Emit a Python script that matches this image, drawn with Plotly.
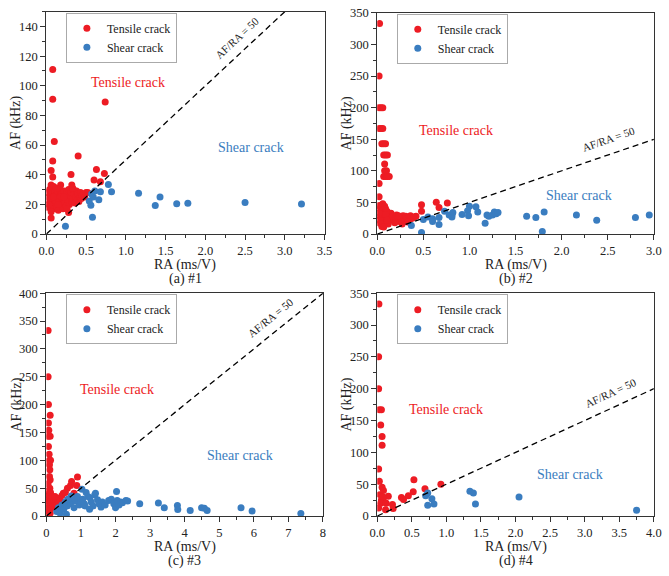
import plotly.graph_objects as go

# ---------------- data ----------------
# Panel (a) #1
a_ten_x = [0.08, 0.08, 0.74, 0.10, 0.08, 0.40, 0.06, 0.63, 0.31, 0.73, 0.60, 0.68, 0.08, 0.32, 0.18, 0.28, 0.06, 0.02,
           0.03, 0.04, 0.04, 0.05, 0.05, 0.06, 0.06, 0.07, 0.07, 0.08, 0.08, 0.09, 0.09, 0.10, 0.10, 0.11, 0.12, 0.12,
           0.13, 0.14, 0.14, 0.15, 0.16, 0.17, 0.18, 0.19, 0.20, 0.21, 0.22, 0.23, 0.24, 0.25, 0.26, 0.27, 0.28, 0.29,
           0.30, 0.31, 0.32, 0.33, 0.34, 0.35, 0.36, 0.37, 0.38, 0.39, 0.40, 0.41, 0.42, 0.43, 0.44, 0.45, 0.47, 0.48,
           0.50, 0.52, 0.18, 0.12, 0.05, 0.02, 0.03, 0.06, 0.09, 0.15, 0.22, 0.26, 0.33]
a_ten_y = [111, 91, 89, 62.5, 49.3, 52.7, 42.8, 43.5, 40.2, 40.8, 36.5, 35.3, 38.5, 33, 33, 14.5, 10.8, 18,
           25, 30, 22, 28, 19, 33, 26, 23, 30, 20, 27, 32, 17, 24, 29, 21, 31, 26,
           18, 23, 28, 16, 25, 30, 21, 27, 24, 17, 29, 22, 26, 19, 28, 23, 30, 20,
           26, 28, 22, 24, 30, 27, 21, 25, 29, 23, 27, 22, 25, 28, 24, 26, 27, 25,
           28, 28, 25, 22, 24, 28, 20, 15, 25, 20, 25, 17, 31]
a_she_x = [0.24, 0.58, 0.56, 0.54, 0.59, 0.61, 0.68, 0.66, 0.78, 0.82, 1.16, 1.37, 1.43, 1.64, 1.78, 2.50, 3.21, 0.57]
a_she_y = [5.3, 11.3, 19.5, 22.3, 25, 29, 28.5, 23.2, 33.5, 28.5, 27.6, 19.3, 25, 20.5, 20.8, 21.2, 20.3, 27]

# Panel (b) #2
b_ten_x = [0.025, 0.02, 0.02, 0.04, 0.06, 0.02, 0.04, 0.06, 0.05, 0.07, 0.09, 0.07, 0.09, 0.11, 0.08, 0.08, 0.10,
           0.07, 0.09, 0.11, 0.13, 0.02, 0.02, 0.48, 0.48, 0.64, 0.67, 0.76,
           0.02, 0.03, 0.04, 0.05, 0.06, 0.07, 0.08, 0.02, 0.03, 0.04, 0.05, 0.06, 0.07, 0.08, 0.09, 0.10, 0.11,
           0.12, 0.13, 0.14, 0.15, 0.03, 0.05, 0.06, 0.08, 0.09, 0.10, 0.04, 0.06, 0.07, 0.10, 0.12, 0.02, 0.09, 0.11,
           0.17, 0.18, 0.20, 0.21, 0.22, 0.24, 0.25, 0.26, 0.27, 0.28, 0.29, 0.30, 0.31, 0.32, 0.34, 0.35, 0.36,
           0.38, 0.40, 0.42, 0.19, 0.23, 0.33]
b_ten_y = [333, 250, 200, 200, 200, 167, 167, 167, 143, 143, 143, 125, 125, 125, 111, 100, 100,
           91, 91, 91, 91, 80, 59, 46.3, 36, 50.5, 42, 49,
           45, 40, 35, 30, 25, 20, 15, 22, 28, 45, 42, 38, 33, 28, 24, 19, 35,
           30, 26, 22, 33, 17, 12, 48, 44, 40, 37, 26, 31, 11, 28, 16, 33, 31, 22,
           28, 22, 26, 30, 24, 20, 27, 23, 16, 29, 25, 21, 28, 24, 26, 22, 29,
           25, 27, 28, 18, 29, 19]
b_she_x = [0.37, 0.48, 0.50, 0.55, 0.60, 0.60, 0.67, 0.67, 0.73, 0.78, 0.81, 0.81, 0.82, 0.92, 0.98, 0.99, 1.00,
           1.07, 1.09, 1.17, 1.19, 1.21, 1.25, 1.27, 1.29, 1.31, 1.62, 1.72, 1.79, 1.81, 2.16, 2.38, 2.80, 2.95]
b_she_y = [13.4, 2.5, 23, 27, 24, 20, 26, 15, 36, 30, 27, 30, 34, 31, 37, 29, 44,
           43, 35, 17, 30, 28, 30, 35, 32, 34, 28, 26, 4, 35, 30, 22, 26, 30]

# Panel (c) #3
c_ten_x = [0.05, 0.05, 0.06, 0.11, 0.06, 0.07, 0.06, 0.11, 0.06, 0.08, 0.09, 0.12, 0.09, 0.10, 0.09, 0.11, 0.10,
           0.05, 0.04, 0.06,
           0.02, 0.03, 0.04, 0.05, 0.06, 0.07, 0.08, 0.09, 0.10, 0.11, 0.12, 0.13, 0.14, 0.15, 0.16, 0.18, 0.20,
           0.22, 0.24, 0.26, 0.28, 0.30, 0.32, 0.35, 0.38, 0.02, 0.03, 0.08, 0.12, 0.17, 0.25, 0.40, 0.45, 0.49,
           0.90, 0.61, 0.70, 0.73, 0.80, 0.88, 0.55]
c_ten_y = [333, 250, 200, 181, 167, 154, 143, 143, 125, 111, 100, 100, 92, 83, 71, 65, 50,
           58, 45, 40,
           35, 28, 22, 15, 8, 30, 25, 18, 12, 5, 33, 27, 20, 14, 30, 24, 17,
           28, 22, 31, 26, 20, 29, 25, 32, 10, 3, 38, 42, 35, 35, 28, 37, 41,
           70, 50, 55, 62, 41, 55, 42]
c_she_x = [0.30, 0.35, 0.40, 0.45, 0.50, 0.55, 0.58, 0.60, 0.65, 0.70, 0.75, 0.80, 0.85, 0.90, 0.95, 1.03, 1.00,
           1.05, 1.10, 1.15, 1.20, 1.26, 1.30, 1.35, 1.40, 1.42, 1.48, 1.52, 1.58, 1.62, 1.70, 1.80, 1.88, 1.95,
           2.00, 2.03, 2.05, 2.10, 2.15, 2.20, 2.30, 2.35, 1.12, 0.72, 1.25, 0.62,
           2.70, 3.24, 3.41, 3.79, 3.80, 4.16, 4.49, 4.57, 4.65, 5.63, 5.95, 7.36]
c_she_y = [8, 15, 5, 20, 12, 25, 3, 18, 28, 22, 32, 15, 27, 35, 20, 48, 25,
           30, 22, 42, 35, 33, 25, 18, 38, 41, 29, 22, 16, 25, 20, 28, 30, 22,
           15, 44, 28, 20, 25, 24, 28, 27, 18, 36, 12, 30,
           22, 23.4, 14.7, 18.7, 11.7, 10, 14.7, 14, 10, 14.7, 8.8, 4.7]

# Panel (d) #4
d_ten_x = [0.024, 0.02, 0.02, 0.03, 0.06, 0.05, 0.07, 0.07, 0.02, 0.03, 0.04, 0.02, 0.07, 0.09, 0.10, 0.16,
           0.12, 0.22, 0.23, 0.35, 0.38, 0.45, 0.52, 0.53, 0.69, 0.92, 0.06, 0.08, 0.05, 0.13]
d_ten_y = [333, 250, 200, 167, 167, 143, 125, 111, 74, 54.5, 33.6, 12.6, 45, 40, 22, 31,
           10, 18, 12, 29, 26, 32, 38, 57, 43, 50, 25, 30, 20, 20]
d_she_x = [0.70, 0.73, 0.73, 0.79, 0.82, 1.34, 1.39, 1.42, 2.05, 3.75]
d_she_y = [32, 17, 36, 27, 19, 39, 36, 19, 30, 9]

ratio = 50  # AF/RA = 50 dividing line

# ---------------- styling ----------------
RED = "#ED1C24"
BLUE = "#3A7DC0"
FONT = "Liberation Serif, Times New Roman, DejaVu Serif, serif"
W, H = 669, 576

panels = [
    dict(cap="(a) #1", tx=a_ten_x, ty=a_ten_y, sx=a_she_x, sy=a_she_y,
         xr=[0, 3.5], yr=[0, 150], xd=0.5, xm=0.25, xf=".1f", yd=20, ym=10,
         px=(39.3, 324.3), py=(4.8, 232.7),
         lab_t=(1.03, 102.5), lab_s=(2.58, 58.4), lab_r=(2.40, 132), ang=-43),
    dict(cap="(b) #2", tx=b_ten_x, ty=b_ten_y, sx=b_she_x, sy=b_she_y,
         xr=[0, 3.0], yr=[0, 350], xd=0.5, xm=0.25, xf=".1f", yd=50, ym=25,
         px=(378.3, 661.7), py=(6.0, 232.7),
         lab_t=(0.85, 163.7), lab_s=(2.19, 60.8), lab_r=(2.51, 151), ang=-19),
    dict(cap="(c) #3", tx=c_ten_x, ty=c_ten_y, sx=c_she_x, sy=c_she_y,
         xr=[0, 8], yr=[0, 400], xd=1, xm=0.5, xf="d", yd=50, ym=25,
         px=(39.3, 322.7), py=(293.3, 521.7),
         lab_t=(2.04, 226.6), lab_s=(5.6, 108), lab_r=(6.47, 356), ang=-39),
    dict(cap="(d) #4", tx=d_ten_x, ty=d_ten_y, sx=d_she_x, sy=d_she_y,
         xr=[0, 4.0], yr=[0, 350], xd=0.5, xm=0.25, xf=".1f", yd=50, ym=25,
         px=(378.3, 661.7), py=(293.3, 521.7),
         lab_t=(0.99, 167.7), lab_s=(2.78, 65), lab_r=(3.37, 194), ang=-24.7),
]

fig = go.Figure()
annotations = []
layout = dict(
    width=W, height=H, margin=dict(l=0, r=0, t=0, b=0),
    paper_bgcolor="white", plot_bgcolor="white",
    font=dict(family=FONT, size=13, color="#222"),
    showlegend=True,
)

for i, p in enumerate(panels):
    k = "" if i == 0 else str(i + 1)
    xa, ya = "x" + k, "y" + k
    lg = "legend" + k
    fig.add_trace(go.Scatter(x=p["tx"], y=p["ty"], mode="markers", name="Tensile crack",
                             marker=dict(color=RED, size=7), xaxis=xa, yaxis=ya, legend=lg))
    fig.add_trace(go.Scatter(x=p["sx"], y=p["sy"], mode="markers", name="Shear crack",
                             marker=dict(color=BLUE, size=7), xaxis=xa, yaxis=ya, legend=lg))
    xend = min(p["xr"][1], p["yr"][1] / ratio)
    fig.add_trace(go.Scatter(x=[0, xend], y=[0, ratio * xend], mode="lines", showlegend=False,
                             line=dict(color="black", width=1.3, dash="6px,4px"),
                             xaxis=xa, yaxis=ya, hoverinfo="skip"))

    x0, x1 = p["px"]
    y0, y1 = p["py"]
    axis_common = dict(showgrid=False, zeroline=False, showline=True, linecolor="#333", linewidth=1,
                       mirror=True, ticks="outside", ticklen=5, tickwidth=1, tickcolor="#333",
                       tickfont=dict(family=FONT, size=12.5, color="#222"))
    layout["xaxis" + k] = dict(axis_common, domain=[x0 / W, x1 / W], range=p["xr"], anchor=ya,
                               dtick=p["xd"], tick0=0, tickformat=p["xf"],
                               minor=dict(dtick=p["xm"], ticklen=3, tickcolor="#333", ticks="outside"))
    layout["yaxis" + k] = dict(axis_common, domain=[1 - y1 / H, 1 - y0 / H], range=p["yr"], anchor=xa,
                               dtick=p["yd"], tick0=0,
                               minor=dict(dtick=p["ym"], ticklen=3, tickcolor="#333", ticks="outside"))
    layout[lg] = dict(x=(x0 + 20) / W, y=1 - (y0 + 1) / H, xanchor="left", yanchor="top",
                      bordercolor="#aaa", borderwidth=1, bgcolor="white",
                      font=dict(family=FONT, size=12, color="#222"), tracegroupgap=0)

    # in-plot labels
    annotations.append(dict(x=p["lab_t"][0], y=p["lab_t"][1], xref=xa, yref=ya, text="Tensile crack",
                            showarrow=False, xanchor="center", yanchor="middle",
                            font=dict(family=FONT, size=14, color=RED)))
    annotations.append(dict(x=p["lab_s"][0], y=p["lab_s"][1], xref=xa, yref=ya, text="Shear crack",
                            showarrow=False, xanchor="center", yanchor="middle",
                            font=dict(family=FONT, size=14, color=BLUE)))
    annotations.append(dict(x=p["lab_r"][0], y=p["lab_r"][1], xref=xa, yref=ya, text="AF/RA = 50",
                            showarrow=False, textangle=p["ang"], xanchor="center", yanchor="middle",
                            font=dict(family=FONT, size=11, color="#222")))
    # axis titles and caption
    cx = (x0 + x1) / 2
    annotations.append(dict(x=cx / W, y=1 - (y1 + 32) / H, xref="paper", yref="paper", text="RA (ms/V)",
                            showarrow=False, xanchor="center", yanchor="middle",
                            font=dict(family=FONT, size=14, color="#222")))
    annotations.append(dict(x=cx / W, y=1 - (y1 + 46.5) / H, xref="paper", yref="paper", text=p["cap"],
                            showarrow=False, xanchor="center", yanchor="middle",
                            font=dict(family=FONT, size=14, color="#222")))
    annotations.append(dict(x=(x0 - 31) / W, y=1 - ((y0 + y1) / 2) / H, xref="paper", yref="paper",
                            text="AF (kHz)", textangle=-90, showarrow=False, xanchor="center", yanchor="middle",
                            font=dict(family=FONT, size=14, color="#222")))

layout["annotations"] = annotations
fig.update_layout(**layout)
fig.write_html("out.html")
